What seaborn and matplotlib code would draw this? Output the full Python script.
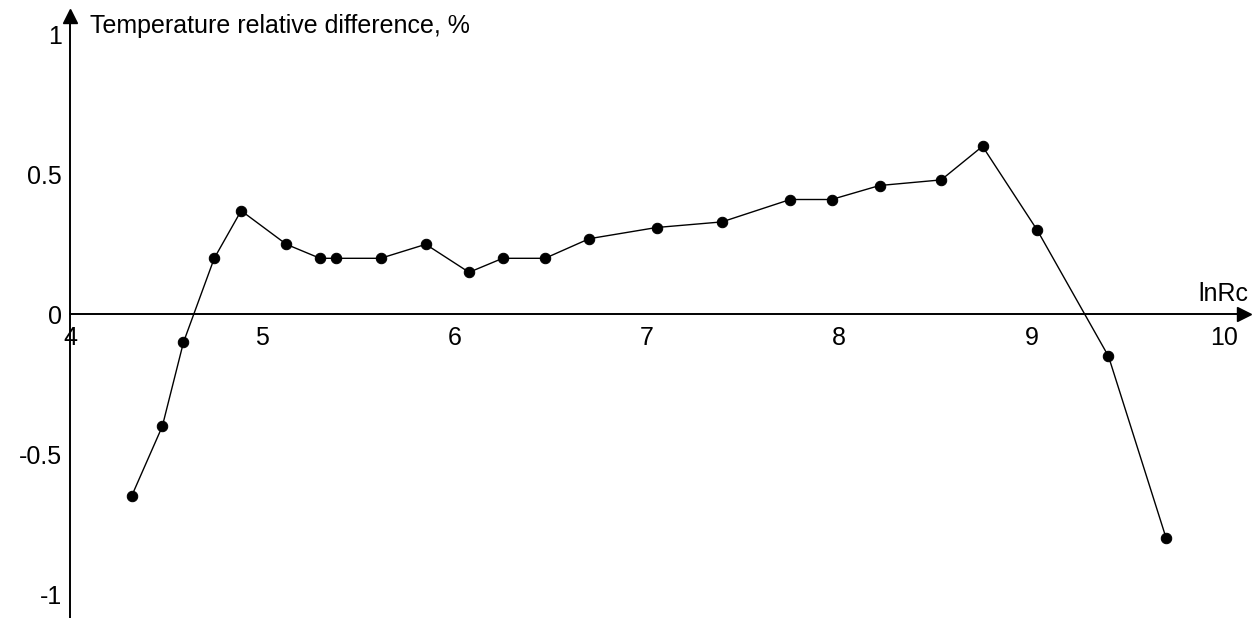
import matplotlib
matplotlib.use("Agg")
import matplotlib.pyplot as plt
import seaborn as sns
import pandas as pd

# ln(Rc) values and the relative temperature difference (%) at each
ln_rc = [4.32, 4.48, 4.59, 4.75, 4.89, 5.125, 5.30, 5.385, 5.615, 5.85,
         6.075, 6.25, 6.47, 6.70, 7.05, 7.39, 7.745, 7.96, 8.21, 8.53,
         8.745, 9.03, 9.40, 9.70]
rel_diff = [-0.65, -0.40, -0.10, 0.20, 0.37, 0.25, 0.20, 0.20, 0.20, 0.25,
            0.15, 0.20, 0.20, 0.27, 0.31, 0.33, 0.41, 0.41, 0.46, 0.48,
            0.60, 0.30, -0.15, -0.80]

x_ticks = [4, 5, 6, 7, 8, 9, 10]
y_ticks = [-1, -0.5, 0, 0.5, 1]
y_tick_labels = ["-1", "-0.5", "0", "0.5", "1"]

df = pd.DataFrame({"lnRc": ln_rc, "diff": rel_diff})

sns.set_style("white")
plt.rcParams["font.family"] = ["Liberation Sans", "DejaVu Sans"]
plt.rcParams["text.color"] = "black"

fig = plt.figure(figsize=(12.56, 6.18), dpi=100)
ax = fig.add_axes([0, 0, 1, 1])

sns.lineplot(data=df, x="lnRc", y="diff", ax=ax, color="black",
             linewidth=1.0, marker="o", markersize=7.5,
             markeredgecolor="black", markerfacecolor="black")

ax.set_xlim(3.636, 10.167)
ax.set_ylim(-1.0846, 1.1225)

# axes crossing at (4, 0)
for side in ("top", "right"):
    ax.spines[side].set_visible(False)
ax.spines["left"].set_position(("data", 4))
ax.spines["bottom"].set_position(("data", 0))
ax.spines["left"].set_bounds(-1.0846, 1.06)
ax.spines["bottom"].set_bounds(4, 10.10)
for s in ("left", "bottom"):
    ax.spines[s].set_linewidth(1.4)
    ax.spines[s].set_color("black")

# arrowheads at the ends of the axes
ax.plot([10.105], [0], marker=">", color="black", markersize=10, clip_on=False)
ax.plot([4], [1.065], marker="^", color="black", markersize=10, clip_on=False)

ax.set_xticks(x_ticks)
ax.set_yticks(y_ticks)
ax.set_yticklabels(y_tick_labels)
ax.tick_params(axis="both", direction="inout", length=5.5, width=1,
               color="black", labelsize=18, labelcolor="black")
ax.tick_params(axis="x", pad=6)
ax.tick_params(axis="y", pad=3)
ax.set_xlabel("")
ax.set_ylabel("")

ax.text(4.105, 1.0046, "Temperature relative difference, %", fontsize=18,
        ha="left", va="baseline", color="black")
ax.text(10.126, 0.0475, "lnRc", fontsize=18, ha="right", va="baseline",
        color="black")

fig.savefig("out.png", dpi=100, facecolor="white")
